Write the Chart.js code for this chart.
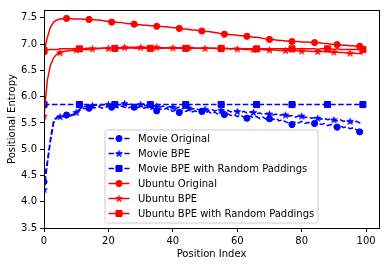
<!DOCTYPE html>
<html><head><meta charset="utf-8">
<script src="https://cdn.jsdelivr.net/npm/chart.js@4"></script>
<style>html,body{margin:0;padding:0;background:#fff}</style>
</head><body>
<canvas id="c" width="389" height="266" style="width:389px;height:266px;display:block"></canvas>
<script>
const positions = [0,1,2,3,4,5,6,7,8,9,10,11,12,13,14,15,16,17,18,19,20,21,22,23,24,25,26,27,28,29,30,31,32,33,34,35,36,37,38,39,40,41,42,43,44,45,46,47,48,49,50,51,52,53,54,55,56,57,58,59,60,61,62,63,64,65,66,67,68,69,70,71,72,73,74,75,76,77,78,79,80,81,82,83,84,85,86,87,88,89,90,91,92,93,94,95,96,97,98,99];
const xTicks = [0,20,40,60,80,100];
const yTicks = [3.5,4.0,4.5,5.0,5.5,6.0,6.5,7.0,7.5];
const seriesNames = ["Movie Original","Movie BPE","Movie BPE with Random Paddings","Ubuntu Original","Ubuntu BPE","Ubuntu BPE with Random Paddings"];

const movieOriginal = [
 4.38,4.75,5.20,5.55,5.61,5.62,5.63,5.65,5.63,5.65,
 5.68,5.74,5.78,5.77,5.78,5.80,5.79,5.81,5.78,5.80,
 5.82,5.80,5.81,5.79,5.82,5.80,5.78,5.81,5.80,5.79,
 5.81,5.78,5.80,5.76,5.78,5.73,5.77,5.75,5.78,5.74,
 5.72,5.75,5.70,5.74,5.72,5.75,5.71,5.73,5.70,5.72,
 5.69,5.72,5.68,5.71,5.66,5.69,5.66,5.68,5.64,5.66,
 5.62,5.65,5.61,5.59,5.63,5.60,5.62,5.58,5.61,5.57,
 5.58,5.56,5.59,5.54,5.56,5.52,5.50,5.47,5.52,5.50,
 5.53,5.49,5.51,5.48,5.49,5.50,5.47,5.49,5.45,5.47,
 5.43,5.42,5.45,5.41,5.43,5.39,5.41,5.37,5.33,5.31];
const movieBPE = [
 4.23,4.70,5.15,5.50,5.60,5.62,5.62,5.64,5.65,5.66,
 5.70,5.76,5.80,5.82,5.83,5.83,5.84,5.82,5.85,5.84,
 5.85,5.83,5.86,5.84,5.86,5.87,5.84,5.86,5.83,5.85,
 5.85,5.82,5.84,5.81,5.83,5.82,5.80,5.82,5.79,5.81,
 5.80,5.78,5.80,5.77,5.79,5.78,5.76,5.78,5.75,5.77,
 5.76,5.74,5.76,5.73,5.75,5.74,5.72,5.74,5.71,5.73,
 5.72,5.70,5.72,5.69,5.71,5.70,5.68,5.69,5.66,5.68,
 5.67,5.65,5.67,5.64,5.66,5.65,5.63,5.64,5.61,5.63,
 5.63,5.60,5.62,5.59,5.60,5.59,5.57,5.59,5.56,5.57,
 5.56,5.54,5.56,5.53,5.54,5.53,5.51,5.53,5.50,5.50];
const movieBPERandomPad = [
 5.85,5.85,5.85,5.85,5.85,5.85,5.85,5.85,5.85,5.85,
 5.85,5.85,5.85,5.85,5.85,5.85,5.85,5.85,5.85,5.85,
 5.85,5.85,5.85,5.85,5.85,5.85,5.85,5.85,5.85,5.85,
 5.85,5.85,5.85,5.85,5.85,5.85,5.85,5.85,5.85,5.85,
 5.85,5.85,5.85,5.85,5.85,5.85,5.85,5.85,5.85,5.85,
 5.85,5.85,5.85,5.85,5.85,5.85,5.85,5.85,5.85,5.85,
 5.85,5.85,5.85,5.85,5.85,5.85,5.85,5.85,5.85,5.85,
 5.85,5.85,5.85,5.85,5.85,5.85,5.85,5.85,5.85,5.85,
 5.85,5.85,5.85,5.85,5.85,5.85,5.85,5.85,5.85,5.85,
 5.85,5.85,5.85,5.85,5.85,5.85,5.85,5.85,5.85,5.85];
const ubuntuOriginal = [
 6.85,7.12,7.32,7.42,7.46,7.48,7.49,7.49,7.49,7.48,
 7.48,7.48,7.48,7.47,7.47,7.47,7.46,7.46,7.45,7.44,
 7.43,7.42,7.42,7.41,7.41,7.40,7.39,7.39,7.38,7.37,
 7.37,7.36,7.36,7.35,7.35,7.34,7.34,7.33,7.33,7.32,
 7.31,7.31,7.30,7.29,7.29,7.28,7.27,7.27,7.26,7.25,
 7.24,7.24,7.23,7.22,7.21,7.20,7.19,7.19,7.18,7.18,
 7.17,7.16,7.16,7.15,7.14,7.13,7.13,7.12,7.11,7.10,
 7.09,7.09,7.08,7.07,7.07,7.06,7.06,7.05,7.05,7.05,
 7.04,7.04,7.04,7.03,7.03,7.03,7.02,7.01,7.01,7.00,
 7.00,6.99,6.99,6.98,6.98,6.97,6.97,6.96,6.96,6.95];
const ubuntuBPE = [
 5.63,6.30,6.60,6.74,6.81,6.84,6.86,6.87,6.88,6.88,
 6.89,6.89,6.90,6.90,6.90,6.91,6.91,6.91,6.92,6.92,
 6.92,6.92,6.93,6.93,6.93,6.94,6.94,6.94,6.94,6.94,
 6.94,6.94,6.94,6.94,6.94,6.94,6.93,6.93,6.93,6.93,
 6.93,6.93,6.93,6.93,6.93,6.93,6.93,6.92,6.92,6.92,
 6.92,6.92,6.92,6.92,6.91,6.91,6.91,6.91,6.91,6.91,
 6.91,6.91,6.90,6.90,6.90,6.90,6.90,6.90,6.90,6.89,
 6.89,6.89,6.89,6.88,6.88,6.88,6.88,6.88,6.88,6.87,
 6.87,6.87,6.87,6.86,6.86,6.86,6.86,6.86,6.86,6.85,
 6.85,6.85,6.84,6.84,6.83,6.83,6.83,6.82,6.82,6.81];
const ubuntuBPERandomPad = [
 6.88,6.89,6.90,6.90,6.90,6.91,6.91,6.91,6.91,6.91,
 6.91,6.91,6.91,6.92,6.92,6.92,6.92,6.92,6.92,6.92,
 6.92,6.92,6.92,6.92,6.92,6.92,6.92,6.93,6.92,6.92,
 6.92,6.92,6.92,6.92,6.92,6.92,6.92,6.92,6.93,6.92,
 6.92,6.92,6.92,6.92,6.92,6.92,6.92,6.92,6.92,6.92,
 6.92,6.92,6.92,6.92,6.92,6.92,6.92,6.92,6.91,6.92,
 6.91,6.91,6.91,6.91,6.91,6.91,6.91,6.91,6.91,6.91,
 6.91,6.91,6.91,6.91,6.91,6.91,6.91,6.91,6.91,6.91,
 6.91,6.91,6.91,6.91,6.91,6.90,6.91,6.91,6.91,6.91,
 6.90,6.91,6.90,6.90,6.90,6.90,6.90,6.90,6.90,6.90];

const BLUE = '#0000ff', RED = '#ff0000';
const DASH = [5.55, 2.4];

function starPath(ctx, cx, cy, R) {
  const r = R * 0.382;
  ctx.beginPath();
  for (let i = 0; i < 10; i++) {
    const rad = (i % 2 === 0) ? R : r;
    const a = -Math.PI / 2 + i * Math.PI / 5;
    const px = cx + rad * Math.cos(a), py = cy + rad * Math.sin(a);
    if (i === 0) ctx.moveTo(px, py); else ctx.lineTo(px, py);
  }
  ctx.closePath();
}
function makeStar(color) {
  const c = document.createElement('canvas');
  c.width = 11; c.height = 11;
  const g = c.getContext('2d');
  starPath(g, 5.5, 5.8, 3.4);
  g.fillStyle = color; g.fill();
  g.strokeStyle = color; g.lineWidth = 1; g.lineJoin = 'miter'; g.stroke();
  return c;
}
const blueStar = makeStar(BLUE), redStar = makeStar(RED);

const styles = [
  {color: BLUE, dash: DASH, marker: 'circle', every: 7},
  {color: BLUE, dash: DASH, marker: 'star', every: 5},
  {color: BLUE, dash: DASH, marker: 'rect', every: 11},
  {color: RED, dash: [], marker: 'circle', every: 7},
  {color: RED, dash: [], marker: 'star', every: 5},
  {color: RED, dash: [], marker: 'rect', every: 11}
];
const seriesValues = [movieOriginal, movieBPE, movieBPERandomPad, ubuntuOriginal, ubuntuBPE, ubuntuBPERandomPad];

function markerRadius(m) { return m === 'rect' ? 4.3 : 3.1; }

const datasets = seriesValues.map((vals, i) => {
  const st = styles[i];
  const ps = st.marker === 'star' ? (st.color === BLUE ? blueStar : redStar) : st.marker;
  return {
    label: seriesNames[i],
    data: positions.map((p, k) => ({x: p, y: vals[k]})),
    borderColor: st.color,
    backgroundColor: st.color,
    borderWidth: 1.5,
    borderDash: st.dash,
    tension: 0,
    pointStyle: ps,
    pointBackgroundColor: st.color,
    pointBorderColor: st.color,
    pointBorderWidth: 1,
    pointRadius: (ctx) => (ctx.dataIndex % st.every === 0 ? markerRadius(st.marker) : 0),
    pointHoverRadius: (ctx) => (ctx.dataIndex % st.every === 0 ? markerRadius(st.marker) : 0),
    order: 6 - i
  };
});

function drawMarker(ctx, st, x, y) {
  ctx.save();
  ctx.fillStyle = st.color; ctx.strokeStyle = st.color; ctx.lineWidth = 1; ctx.setLineDash([]);
  if (st.marker === 'circle') {
    ctx.beginPath(); ctx.arc(x, y, markerRadius('circle'), 0, Math.PI * 2); ctx.fill(); ctx.stroke();
  } else if (st.marker === 'rect') {
    const s = Math.SQRT1_2 * markerRadius('rect');
    ctx.beginPath(); ctx.rect(x - s, y - s, 2 * s, 2 * s); ctx.fill(); ctx.stroke();
  } else {
    const img = st.color === BLUE ? blueStar : redStar;
    ctx.drawImage(img, x - img.width / 2, y - img.height / 2);
  }
  ctx.restore();
}

const framePlugin = {
  id: 'frameAndLegend',
  afterDraw(chart) {
    const {ctx, chartArea: a} = chart;
    ctx.save();
    ctx.strokeStyle = '#000'; ctx.lineWidth = 1; ctx.setLineDash([]);
    ctx.strokeRect(Math.round(a.left) + 0.5, Math.round(a.top) + 0.5,
                   Math.round(a.right) - Math.round(a.left), Math.round(a.bottom) - Math.round(a.top));
    ctx.restore();
    const W = 213, H = 93;
    const bx = (a.left + a.right) / 2 - W / 2, by = a.bottom - 5 - H;
    ctx.save();
    ctx.beginPath();
    const rr = 2.5;
    ctx.moveTo(bx + rr, by); ctx.lineTo(bx + W - rr, by); ctx.quadraticCurveTo(bx + W, by, bx + W, by + rr);
    ctx.lineTo(bx + W, by + H - rr); ctx.quadraticCurveTo(bx + W, by + H, bx + W - rr, by + H);
    ctx.lineTo(bx + rr, by + H); ctx.quadraticCurveTo(bx, by + H, bx, by + H - rr);
    ctx.lineTo(bx, by + rr); ctx.quadraticCurveTo(bx, by, bx + rr, by);
    ctx.closePath();
    ctx.fillStyle = 'rgba(255,255,255,0.8)'; ctx.fill();
    ctx.strokeStyle = '#cccccc'; ctx.lineWidth = 1; ctx.stroke();
    ctx.font = '10px "DejaVu Sans"';
    ctx.textBaseline = 'middle'; ctx.textAlign = 'left';
    for (let i = 0; i < seriesNames.length; i++) {
      const st = styles[i];
      const y = by + 8.5 + i * 15;
      const x0 = bx + 3.5, x1 = bx + 24.5;
      ctx.save();
      ctx.strokeStyle = st.color; ctx.lineWidth = 1.5; ctx.setLineDash(st.dash);
      ctx.beginPath(); ctx.moveTo(x0, y); ctx.lineTo(x1, y); ctx.stroke();
      ctx.restore();
      drawMarker(ctx, st, (x0 + x1) / 2, y);
      ctx.fillStyle = '#000';
      ctx.fillText(seriesNames[i], bx + 33, y + 0.5);
    }
    ctx.restore();
  }
};

Chart.defaults.font.family = '"DejaVu Sans", sans-serif';
Chart.defaults.font.size = 10;
Chart.defaults.color = '#000';

new Chart(document.getElementById('c'), {
  type: 'line',
  data: {datasets},
  options: {
    responsive: false,
    devicePixelRatio: 1,
    animation: false,
    events: [],
    layout: {padding: {top: 10, right: 10, left: 0, bottom: 0}},
    plugins: {legend: {display: false}, tooltip: {enabled: false}},
    scales: {
      x: {
        type: 'linear', min: 0, max: 104,
        afterBuildTicks: (s) => { s.ticks = xTicks.map(v => ({value: v})); },
        afterFit: (s) => { s.height = 38; },
        grid: {display: true, drawOnChartArea: false, drawTicks: true, tickLength: 4, color: '#000', lineWidth: 1},
        border: {display: false},
        ticks: {color: '#000', padding: 3, maxRotation: 0, autoSkip: false, font: {size: 10}},
        title: {display: true, text: 'Position Index', color: '#000', font: {size: 10}, padding: {top: 0, bottom: 6}}
      },
      y: {
        type: 'linear', min: 3.5, max: 7.65,
        afterBuildTicks: (s) => { s.ticks = yTicks.map(v => ({value: v})); },
        afterFit: (s) => { s.width = 44; },
        grid: {display: true, drawOnChartArea: false, drawTicks: true, tickLength: 4, color: '#000', lineWidth: 1},
        border: {display: false},
        ticks: {color: '#000', padding: 3, autoSkip: false, font: {size: 10}, callback: (v) => Number(v).toFixed(1)},
        title: {display: true, text: 'Positional Entropy', color: '#000', font: {size: 10}, padding: {top: 6, bottom: 0}}
      }
    }
  },
  plugins: [framePlugin]
});
</script>
</body></html>
